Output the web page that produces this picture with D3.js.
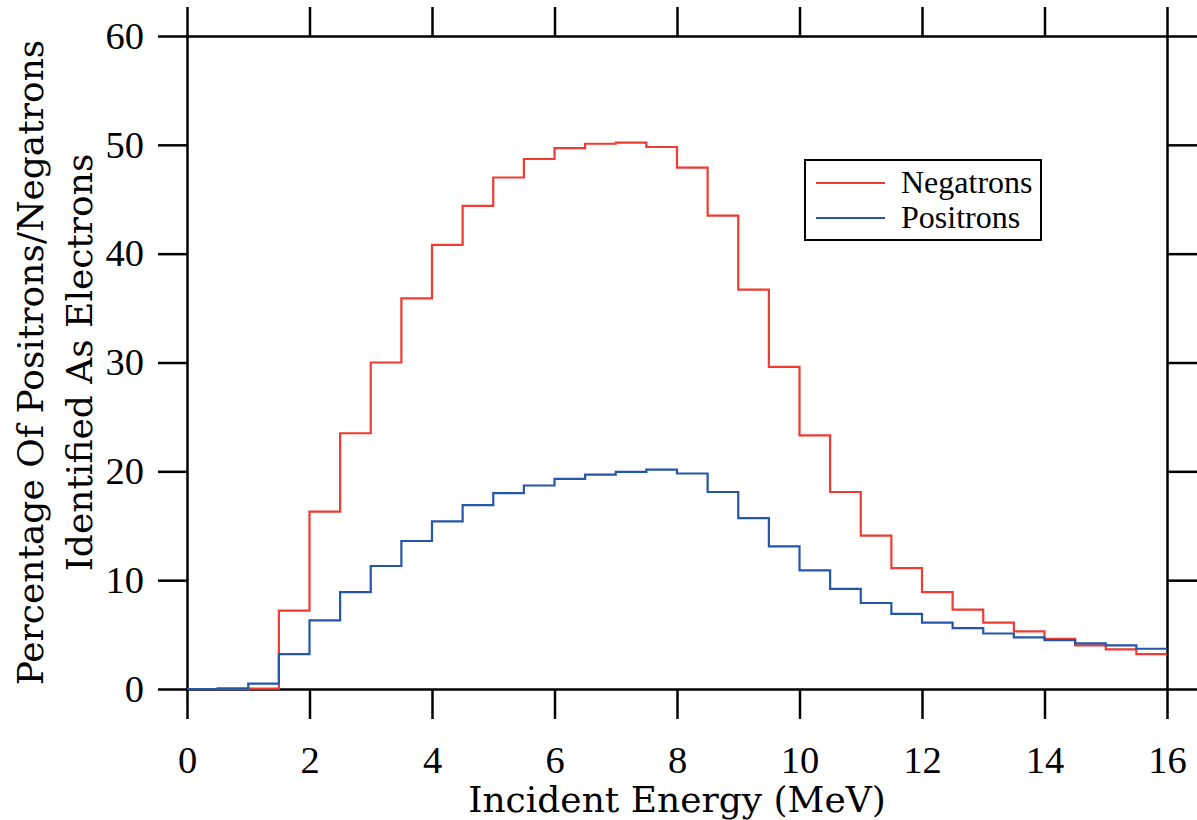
<!DOCTYPE html>
<html>
<head>
<meta charset="utf-8">
<script src="https://cdn.jsdelivr.net/npm/d3@7"></script>
<style>
  body { margin: 0; background: #fff; }
  .tick text { font-family: "Liberation Serif", serif; fill: #000; }
  .title { font-family: "DejaVu Serif", serif; font-size: 36px; fill: #000; }
  .legend text { font-family: "Liberation Serif", serif; font-size: 32px; fill: #000; }
</style>
</head>
<body>
<div id="chart"></div>
<script>
// bin edges (MeV), one value per 0.5 MeV bin
var binStarts = [0, 0.5, 1, 1.5, 2, 2.5, 3, 3.5, 4, 4.5, 5, 5.5, 6, 6.5, 7, 7.5,
                 8, 8.5, 9, 9.5, 10, 10.5, 11, 11.5, 12, 12.5, 13, 13.5, 14, 14.5, 15, 15.5]
var binEnd = 16

var negatrons = [0, 0, 0.03, 7.2, 16.3, 23.5, 30.0, 35.9, 40.8, 44.4, 47.0, 48.7, 49.7, 50.1, 50.2, 49.8,
                 47.9, 43.5, 36.7, 29.6, 23.3, 18.1, 14.1, 11.1, 8.9, 7.3, 6.1, 5.3, 4.6, 4.0, 3.65, 3.2]
var positrons = [0, 0.05, 0.5, 3.2, 6.3, 8.9, 11.3, 13.6, 15.4, 16.9, 18.0, 18.7, 19.3, 19.7, 19.95, 20.15,
                 19.8, 18.1, 15.7, 13.1, 10.9, 9.2, 7.9, 6.9, 6.1, 5.6, 5.1, 4.75, 4.5, 4.2, 4.0, 3.7]

var xTicks = [0, 2, 4, 6, 8, 10, 12, 14, 16]
var yTicks = [0, 10, 20, 30, 40, 50, 60]

var series = [
  {name: "Negatrons", values: negatrons, color: "#f03a32"},
  {name: "Positrons", values: positrons, color: "#2456ac"}
]

var W = 1197, H = 820
var margin = {left: 187, top: 36, right: 30, bottom: 131}
var width = W - margin.left - margin.right
var height = H - margin.top - margin.bottom
var tickLen = 30

var svg = d3.select("#chart").append("svg")
  .attr("width", W)
  .attr("height", H)
var g = svg.append("g")
  .attr("transform", "translate(" + margin.left + "," + margin.top + ")")

var xScale = d3.scaleLinear().domain([0, 16]).range([0, width])
var yScale = d3.scaleLinear().domain([0, 60]).range([height, 0])

// axes on all four sides, ticks pointing outward
function styleAxis(sel) {
  sel.selectAll(".domain, .tick line").attr("stroke", "#000").attr("stroke-width", 2.5)
}

g.append("g")
  .attr("transform", "translate(0," + height + ")")
  .call(d3.axisBottom(xScale).tickValues(xTicks).tickSize(tickLen).tickSizeOuter(0).tickFormat(d3.format("d")))
  .call(styleAxis)
  .call(s => s.selectAll("text").attr("y", 57).attr("font-size", 38.5))

g.append("g")
  .call(d3.axisTop(xScale).tickValues(xTicks).tickSize(tickLen - 1).tickSizeOuter(0).tickFormat(""))
  .call(styleAxis)

g.append("g")
  .call(d3.axisLeft(yScale).tickValues(yTicks).tickSize(tickLen - 1).tickSizeOuter(0).tickPadding(14).tickFormat(d3.format("d")))
  .call(styleAxis)
  .call(s => s.selectAll("text").attr("font-size", 38.5))

g.append("g")
  .attr("transform", "translate(" + width + ",0)")
  .call(d3.axisRight(yScale).tickValues(yTicks).tickSize(tickLen).tickSizeOuter(0).tickFormat(""))
  .call(styleAxis)

// step histograms
var line = d3.line()
  .x(d => xScale(d[0]))
  .y(d => yScale(d[1]))
  .curve(d3.curveStepAfter)

series.forEach(s => {
  var pts = binStarts.map((b, i) => [b, s.values[i]])
  pts.push([binEnd, s.values[s.values.length - 1]])
  g.append("path")
    .datum(pts)
    .attr("fill", "none")
    .attr("stroke", s.color)
    .attr("stroke-width", 2.2)
    .attr("d", line)
})

// axis titles
svg.append("text")
  .attr("class", "title")
  .attr("x", margin.left + width / 2)
  .attr("y", 812)
  .attr("text-anchor", "middle")
  .text("Incident Energy (MeV)")

var yTitle = svg.append("text")
  .attr("class", "title")
  .attr("text-anchor", "middle")
  .attr("transform", "translate(43," + (margin.top + height / 2) + ") rotate(-90)")
yTitle.append("tspan").attr("x", 0).attr("y", 0).text("Percentage Of Positrons/Negatrons")
yTitle.append("tspan").attr("x", 0).attr("y", 49).text("Identified As Electrons")

// legend
var legend = svg.append("g").attr("class", "legend")
legend.append("rect")
  .attr("x", 805).attr("y", 160)
  .attr("width", 236).attr("height", 80)
  .attr("fill", "#fff")
  .attr("stroke", "#000")
  .attr("stroke-width", 2)
series.forEach((s, i) => {
  var yy = 183 + i * 35
  legend.append("line")
    .attr("x1", 816).attr("x2", 885)
    .attr("y1", yy).attr("y2", yy)
    .attr("stroke", s.color)
    .attr("stroke-width", 2.2)
  legend.append("text")
    .attr("x", 901)
    .attr("y", yy + 10)
    .text(s.name)
})
</script>
</body>
</html>
